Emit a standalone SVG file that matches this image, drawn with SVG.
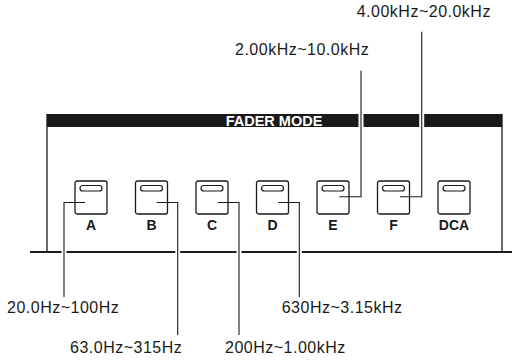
<svg xmlns="http://www.w3.org/2000/svg" width="512" height="360" viewBox="0 0 512 360">
<defs>
<style>
.frame{fill:none;stroke:#1a1a1a;stroke-width:1.3}
.base{fill:none;stroke:#1a1a1a;stroke-width:2}
.btn{fill:#fff;stroke:#1a1a1a;stroke-width:1.3}
.led{fill:#fff;stroke:#1a1a1a;stroke-width:1.2}
.blbl{font-family:"Liberation Sans",Arial,sans-serif;font-size:14px;font-weight:bold;fill:#1a1a1a;text-anchor:middle}
.title{font-family:"Liberation Sans",Arial,sans-serif;font-size:14.5px;font-weight:bold;fill:#fff;text-anchor:middle}
.lbl{font-family:"Liberation Sans",Arial,sans-serif;font-size:16px;letter-spacing:0.5px;fill:#1a1a1a}
.lead{fill:none;stroke:#1a1a1a;stroke-width:1.1}
.halo{fill:none;stroke:#fff;stroke-width:5}
</style>
<g id="button">
<rect class="btn" x="0" y="0" width="32" height="33" rx="2"/>
<rect class="led" x="5" y="4.5" width="22" height="5.5" rx="2.75"/>
</g>
</defs>
<rect width="512" height="360" fill="#fff"/>
<g id="panel">
<rect x="47" y="114" width="455" height="13" fill="#1a1a1a"/>
<text class="title" x="274" y="125.8">FADER MODE</text>
<line class="frame" x1="47" y1="114" x2="47" y2="252"/>
<line class="frame" x1="502" y1="114" x2="502" y2="252"/>
<line class="base" x1="30" y1="252" x2="512" y2="252"/>
</g>
<g id="btn-A"><use href="#button" x="75" y="181"/><text class="blbl" x="91" y="230">A</text></g>
<g id="btn-B"><use href="#button" x="135.5" y="181"/><text class="blbl" x="151.5" y="230">B</text></g>
<g id="btn-C"><use href="#button" x="196" y="181"/><text class="blbl" x="212" y="230">C</text></g>
<g id="btn-D"><use href="#button" x="256.5" y="181"/><text class="blbl" x="272.5" y="230">D</text></g>
<g id="btn-E"><use href="#button" x="317" y="181"/><text class="blbl" x="333" y="230">E</text></g>
<g id="btn-F"><use href="#button" x="377.5" y="181"/><text class="blbl" x="393.5" y="230">F</text></g>
<g id="btn-DCA"><use href="#button" x="438" y="181"/><text class="blbl" x="454" y="230">DCA</text></g>
<g id="connectors">
<line class="halo" x1="64" y1="246" x2="64" y2="258"/>
<line class="halo" x1="177.7" y1="246" x2="177.7" y2="258"/>
<line class="halo" x1="239" y1="246" x2="239" y2="258"/>
<line class="halo" x1="299.3" y1="246" x2="299.3" y2="258"/>
<line class="halo" x1="361" y1="112" x2="361" y2="129"/>
<line class="halo" x1="421.7" y1="112" x2="421.7" y2="129"/>
<polyline class="lead" points="85,202.5 64,202.5 64,297"/>
<polyline class="lead" points="156.7,202.5 177.7,202.5 177.7,335"/>
<polyline class="lead" points="217.7,202.5 239,202.5 239,335"/>
<polyline class="lead" points="278.3,202.5 299.3,202.5 299.3,297"/>
<polyline class="lead" points="339.3,196.7 361,196.7 361,70.7"/>
<polyline class="lead" points="400,196.7 421.7,196.7 421.7,31.7"/>
</g>
<g id="labels">
<text class="lbl" x="7" y="312.5">20.0Hz~100Hz</text>
<text class="lbl" x="70" y="352.5">63.0Hz~315Hz</text>
<text class="lbl" x="225" y="353">200Hz~1.00kHz</text>
<text class="lbl" x="281.7" y="312.5">630Hz~3.15kHz</text>
<text class="lbl" x="235" y="55">2.00kHz~10.0kHz</text>
<text class="lbl" x="356.7" y="17">4.00kHz~20.0kHz</text>
</g>
</svg>
